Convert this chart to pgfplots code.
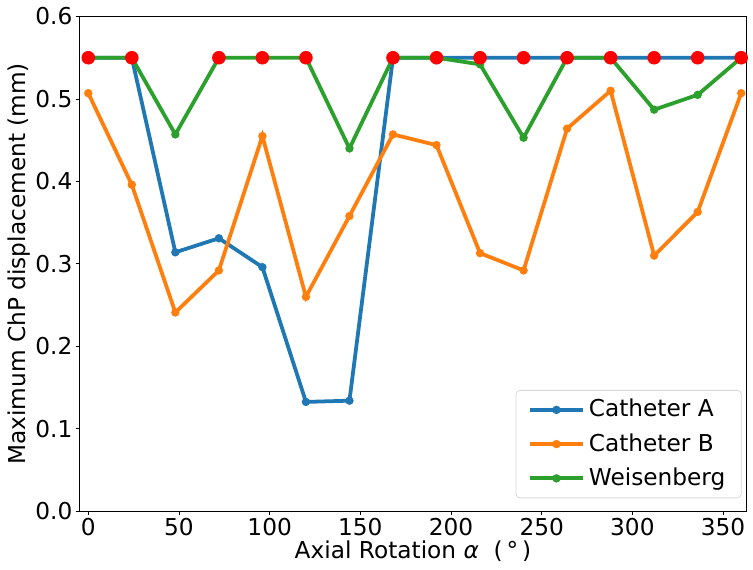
\documentclass[border=0pt]{standalone}
\usepackage{fontspec}
\setmainfont{DejaVu Sans}
\usepackage{pgfplots}
\pgfplotsset{compat=1.18}
\definecolor{tabblue}{HTML}{1F77B4}
\definecolor{taborange}{HTML}{FF7F0E}
\definecolor{tabgreen}{HTML}{2CA02C}
\begin{document}
\fontsize{11.7}{13.5}\selectfont
\begin{tikzpicture}
\begin{axis}[
  width=336pt, height=249pt, scale only axis,
  xmin=-5, xmax=363, ymin=0, ymax=0.6,
  xtick={0,50,100,150,200,250,300,350},
  ytick={0,0.1,0.2,0.3,0.4,0.5,0.6},
  yticklabel style={/pgf/number format/fixed,/pgf/number format/fixed zerofill,/pgf/number format/precision=1, inner xsep=1.5pt},
  /pgf/number format/assume math mode=true,
  tick align=outside, xtick pos=bottom, ytick pos=left,
  major tick length=1.75pt,
  tick style={black, line width=0.4pt},
  axis line style={black, line width=0.5pt},
  ticklabel style={font=\fontsize{11.7}{13.5}\selectfont},
  xticklabel style={inner ysep=1.5pt},
  xlabel={Axial Rotation \textit{α}\ \ (\,°\,)},
  ylabel={Maximum ChP displacement (mm)},
  label style={font=\fontsize{11.7}{13.5}\selectfont},
  xlabel style={yshift=3pt},
  ylabel style={yshift=-3pt},
  legend style={at={(0.9925,0.026)}, anchor=south east, draw=black!15, rounded corners=2pt,
    font=\fontsize{11.7}{13.5}\selectfont, row sep=2.6pt, inner xsep=6pt, inner ysep=2.5pt},
  legend cell align=left,
  legend image code/.code={\draw[#1, mark repeat=2, mark phase=2] plot coordinates {(0cm,0cm) (0.47cm,0cm) (0.94cm,0cm)};},
]
\addplot[tabblue, line width=1.9pt, mark=*, mark size=1.1pt] coordinates {
(0,0.55)(24,0.55)(48,0.314)(72,0.331)(96,0.296)(120,0.1325)(144,0.134)(168,0.55)(192,0.55)(216,0.55)(240,0.55)(264,0.55)(288,0.55)(312,0.55)(336,0.55)(360,0.55)};
\addlegendentry{Catheter A}
\addplot[taborange, line width=1.9pt, mark=*, mark size=1.1pt] coordinates {
(0,0.507)(24,0.396)(48,0.241)(72,0.292)(96,0.455)(120,0.260)(144,0.358)(168,0.457)(192,0.444)(216,0.313)(240,0.292)(264,0.464)(288,0.510)(312,0.310)(336,0.363)(360,0.507)};
\addlegendentry{Catheter B}
\addplot[tabgreen, line width=1.9pt, mark=*, mark size=1.1pt] coordinates {
(0,0.55)(24,0.55)(48,0.457)(72,0.55)(96,0.55)(120,0.55)(144,0.440)(168,0.55)(192,0.55)(216,0.542)(240,0.453)(264,0.55)(288,0.55)(312,0.487)(336,0.505)(360,0.55)};
\addlegendentry{Weisenberg}
\addplot[only marks, mark=*, mark size=3.2pt, color=red, forget plot] coordinates {
(0,0.55)(24,0.55)(72,0.55)(96,0.55)(120,0.55)(168,0.55)(192,0.55)(216,0.55)(240,0.55)(264,0.55)(288,0.55)(312,0.55)(336,0.55)(360,0.55)};
\end{axis}
\end{tikzpicture}
\end{document}
